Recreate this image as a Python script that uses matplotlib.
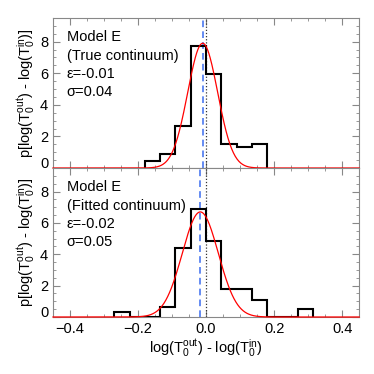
import numpy as np
import matplotlib
matplotlib.use('Agg')
import matplotlib.pyplot as plt
from matplotlib.ticker import MultipleLocator
from matplotlib.transforms import ScaledTranslation

plt.rcParams['font.family'] = ['Liberation Sans', 'DejaVu Sans']
plt.rcParams['mathtext.default'] = 'regular'
plt.rcParams['font.size'] = 10

# histogram data
top_edges = [-0.18, -0.135, -0.09, -0.045, 0.0, 0.045, 0.09, 0.135, 0.18]
top_vals = [0.42, 0.91, 2.65, 7.7, 5.95, 1.54, 1.35, 1.54]
bot_edges = [-0.27, -0.225, -0.18, -0.135, -0.09, -0.045, 0.0, 0.045, 0.09,
             0.135, 0.18, 0.225, 0.27, 0.315]
bot_vals = [0.3, 0.0, 0.0, 0.62, 4.39, 6.86, 4.86, 1.76, 1.76, 1.08, 0.0, 0.0, 0.5]

# gaussian fit parameters (amplitude, centre, width)
top_fit = (7.9, -0.01, 0.044)
bot_fit = (6.7, -0.017, 0.053)

top_text = ['Model E', '(True continuum)', '\u03b5=-0.01', '\u03c3=0.04']
bot_text = ['Model E', '(Fitted continuum)', '\u03b5=-0.02', '\u03c3=0.05']

yticks = [0, 2, 4, 6, 8]
xticks = [-0.4, -0.2, 0.0, 0.2, 0.4]

ylab = r'p[log(T$_0^{out}$) - log(T$_0^{in}$)]'
xlab = r'log(T$_0^{out}$) - log(T$_0^{in}$)'

fig = plt.figure(figsize=(3.74, 3.74), dpi=100)
ax1 = fig.add_axes([0.1417, 0.5508, 0.8187, 0.4011])
ax2 = fig.add_axes([0.1417, 0.1524, 0.8187, 0.3984])

xs = np.linspace(-0.45, 0.45, 500)

for ax, edges, vals, fit, txt in [(ax1, top_edges, top_vals, top_fit, top_text),
                                  (ax2, bot_edges, bot_vals, bot_fit, bot_text)]:
    amp, mu, sig = fit
    ax.stairs(vals, edges, baseline=0, color='black', lw=1.5, zorder=3)
    ax.plot(xs, amp * np.exp(-0.5 * ((xs - mu) / sig) ** 2), color='red', lw=0.9, zorder=4,
            clip_on=False)
    ax.axvline(mu, color='#4a78f0', ls=(0, (4, 2.5)), lw=1.2, zorder=2)
    ax.axvline(0.0, color='#333333', ls=(0, (1, 1.5)), lw=0.9, zorder=2)
    ax.set_xlim(-0.45, 0.45)
    ax.set_ylim(0, 9.5)
    ax.set_xticks(xticks)
    ax.set_yticks(yticks)
    ax.xaxis.set_minor_locator(MultipleLocator(0.05))
    ax.yaxis.set_minor_locator(MultipleLocator(0.5))
    ax.tick_params(which='both', direction='in', top=True, right=True, color='#888888')
    ax.tick_params(which='major', length=5, labelsize=10.5)
    ax.tick_params(which='minor', length=2.5)
    for s in ax.spines.values():
        s.set_color('#888888')
    for i, line in enumerate(txt):
        ax.text(0.045, 0.87 - i * 0.122, line, transform=ax.transAxes,
                fontsize=10.5, va='center', ha='left')
    ax.set_ylabel(ylab, fontsize=10.5, labelpad=2)
    # nudge the zero label up like the original
    lbl = ax.get_yticklabels()[0]
    lbl.set_transform(lbl.get_transform() + ScaledTranslation(0, 4 / 72, fig.dpi_scale_trans))

ax1.tick_params(labelbottom=False)
ax2.set_xlabel(xlab, fontsize=10.5, labelpad=1)

fig.savefig('out.png', dpi=100)
